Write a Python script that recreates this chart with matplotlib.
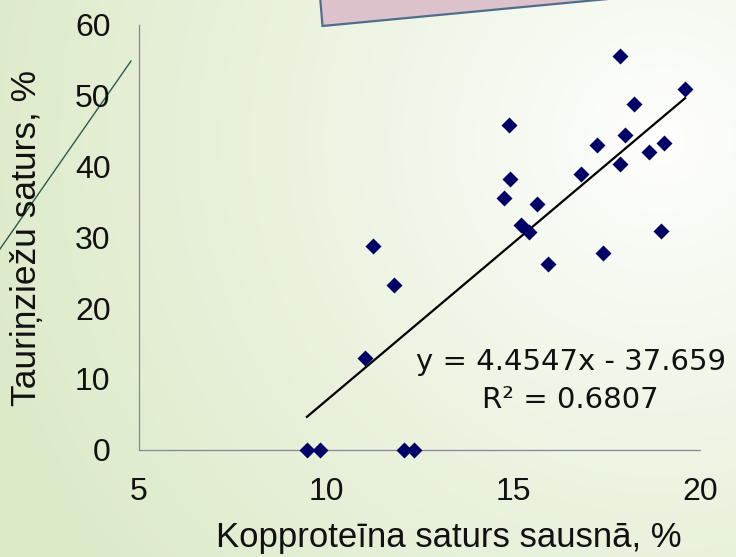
import numpy as np
import matplotlib
matplotlib.use("Agg")
import matplotlib.pyplot as plt
from matplotlib.patches import Polygon

# ---- data ----
x_protein = [9.49, 9.84, 12.09, 12.35, 11.04, 11.26, 11.82, 14.77, 14.93, 14.89,
             15.21, 15.43, 15.65, 15.94, 16.82, 17.25, 17.41, 17.86, 17.86, 17.99,
             18.23, 18.63, 18.95, 19.03, 19.60]
y_legume = [0, 0, 0, 0, 12.9, 28.7, 23.3, 35.5, 38.3, 45.8,
            31.8, 30.8, 34.7, 26.2, 39.0, 43.0, 27.8, 40.3, 55.6, 44.5,
            48.9, 42.0, 30.9, 43.3, 50.9]
slope = 4.4547
intercept = -37.659
r_squared = 0.6807
x_ticks = [5, 10, 15, 20]
y_ticks = [0, 10, 20, 30, 40, 50, 60]
x_title = "Kopproteīna saturs sausnā, %"
y_title = "Tauriņziežu saturs, %"

plt.rcParams["font.family"] = ["Liberation Sans", "DejaVu Sans"]

W, H = 736, 557
fig = plt.figure(figsize=(W / 100, H / 100), dpi=100)

# ---- background (radial green-to-white gradient + decorations) ----
bg = fig.add_axes([0, 0, 1, 1], zorder=-10)
yy, xx = np.mgrid[0:H, 0:W]
d = np.hypot(xx - 660, yy - 140)
t = np.clip(d / 720.0, 0, 1) ** 0.85
green = np.array([220, 234, 200]) / 255.0
img = 1 - t[..., None] * (1 - green)
bg.imshow(img, extent=(0, W, H, 0), aspect="auto", interpolation="bilinear")
bg.set_xlim(0, W)
bg.set_ylim(H, 0)
bg.axis("off")
bg.add_patch(Polygon([(319.5, -10), (322.5, 26), (650, -5), (650, -20)],
                     closed=True, facecolor="#dcc2cb", edgecolor="#4f6d8c", lw=1.6))
bg.plot([0, 131], [249, 61], color="#2f5a4a", lw=1.0)

# ---- main chart ----
ax = fig.add_axes([139 / W, (H - 449.5) / H, (700 - 139) / W, (449.5 - 25) / H])
ax.set_facecolor("none")
ax.set_xlim(x_ticks[0], x_ticks[-1])
ax.set_ylim(y_ticks[0], y_ticks[-1])
ax.set_xticks(x_ticks)
ax.set_yticks(y_ticks)
for s in ("top", "right"):
    ax.spines[s].set_visible(False)
for s in ("left", "bottom"):
    ax.spines[s].set_color("#868699")
    ax.spines[s].set_linewidth(0.9)
ax.tick_params(axis="both", length=0, labelsize=23, colors="#111111")
ax.tick_params(axis="y", pad=20.5)
ax.tick_params(axis="x", pad=20)

xs = np.array([min(x_protein), max(x_protein)])
ax.plot(xs, slope * xs + intercept, color="black", lw=1.6, zorder=2)
ax.plot(x_protein, y_legume, "D", ms=8.6, color="#000066", mec="none",
        clip_on=False, zorder=3)

fig.text(449 / W, 1 - 538 / H, x_title, fontsize=25, ha="center", va="center",
         color="#111111")
fig.text(27 / W, 1 - 237.5 / H, y_title, fontsize=25.5, ha="center", va="center",
         rotation=90, color="#111111")

eq = f"y = {slope}x - {abs(intercept)}"
fig.text(571 / W, 1 - 362 / H, eq, fontsize=21, family="DejaVu Sans",
         ha="center", va="center", color="#111111")
fig.text(570 / W, 1 - 400 / H, f"R² = {r_squared}", fontsize=21, family="DejaVu Sans",
         ha="center", va="center", color="#111111")

fig.savefig("out.png", dpi=100)
